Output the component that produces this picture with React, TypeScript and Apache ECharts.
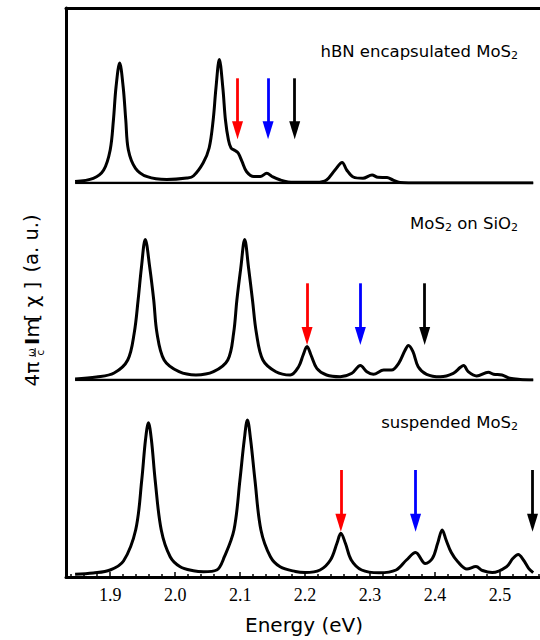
import React, { useEffect, useRef } from 'react';
import * as echarts from 'echarts';

// ---------- axis ----------
const X_MIN = 1.832;
const X_MAX = 2.5615;
const majorTicks = [1.9, 2.0, 2.1, 2.2, 2.3, 2.4, 2.5];
const minorTicks = [1.84, 1.86, 1.88, 1.92, 1.94, 1.96, 1.98, 2.02, 2.04, 2.06, 2.08, 2.12, 2.14, 2.16, 2.18,
  2.22, 2.24, 2.26, 2.28, 2.32, 2.34, 2.36, 2.38, 2.42, 2.44, 2.46, 2.48, 2.52, 2.54, 2.56];

// ---------- panel 1: hBN encapsulated MoS2 ----------
const hbnEnergy = [1.846, 1.874, 1.890, 1.900, 1.905, 1.909, 1.9146, 1.920, 1.924, 1.928, 1.939, 1.957, 1.987, 2.018,
  2.028, 2.043, 2.0523, 2.0585, 2.0628, 2.068, 2.0734, 2.0774, 2.082, 2.086, 2.092, 2.097, 2.103, 2.110, 2.121, 2.131,
  2.141, 2.149, 2.162, 2.182, 2.218, 2.233, 2.246, 2.257, 2.264, 2.274, 2.289, 2.303, 2.312, 2.326, 2.335, 2.346, 2.377, 2.551];
const hbnValue = [0.015, 0.047, 0.13, 0.33, 0.63, 0.96, 1.20, 0.96, 0.63, 0.33, 0.147, 0.063, 0.035, 0.05,
  0.07, 0.20, 0.35, 0.63, 0.95, 1.235, 0.95, 0.63, 0.43, 0.35, 0.325, 0.30, 0.213, 0.113, 0.065, 0.065,
  0.097, 0.065, 0.03, 0.007, 0.007, 0.03, 0.13, 0.205, 0.13, 0.06, 0.047, 0.08, 0.057, 0.055, 0.03, 0.005, 0, 0];

// ---------- panel 2: MoS2 on SiO2 ----------
const sio2Energy = [1.846, 1.879, 1.906, 1.927, 1.937, 1.943, 1.948, 1.954, 1.961, 1.967, 1.972, 1.983, 2.006, 2.032,
  2.059, 2.081, 2.090, 2.095, 2.101, 2.107, 2.113, 2.119, 2.125, 2.135, 2.155, 2.177, 2.190, 2.197, 2.203, 2.209,
  2.218, 2.233, 2.254, 2.272, 2.285, 2.295, 2.305, 2.321, 2.333, 2.344, 2.354, 2.359, 2.366, 2.374, 2.387, 2.408,
  2.428, 2.439, 2.444, 2.451, 2.464, 2.482, 2.490, 2.503, 2.515, 2.531, 2.551];
const sio2Value = [0.01, 0.03, 0.07, 0.20, 0.47, 0.80, 1.12, 1.405, 1.12, 0.80, 0.47, 0.20, 0.083, 0.05,
  0.083, 0.20, 0.47, 0.80, 1.12, 1.405, 1.12, 0.80, 0.47, 0.20, 0.083, 0.05, 0.133, 0.25, 0.335, 0.25,
  0.117, 0.05, 0.033, 0.067, 0.145, 0.083, 0.057, 0.10, 0.10, 0.167, 0.30, 0.345, 0.283, 0.133, 0.057, 0.033,
  0.067, 0.127, 0.145, 0.083, 0.04, 0.077, 0.057, 0.05, 0.017, 0.005, 0];

// ---------- panel 3: suspended MoS2 ----------
const suspEnergy = [1.846, 1.874, 1.900, 1.9205, 1.9392, 1.9486, 1.9543, 1.9589, 1.9635, 1.9692, 1.9786,
  1.9923, 2.0077, 2.028, 2.0436, 2.064, 2.0758, 2.0905, 2.0997, 2.1063, 2.1112, 2.1162, 2.1228, 2.1320, 2.1466,
  2.1615, 2.185, 2.200, 2.223, 2.239, 2.249, 2.255, 2.262, 2.271, 2.287, 2.314, 2.340, 2.356, 2.370, 2.385, 2.396,
  2.404, 2.411, 2.417, 2.425, 2.435, 2.449, 2.463, 2.473, 2.488, 2.510, 2.520, 2.528, 2.536, 2.544, 2.551];
const suspValue = [0.007, 0.02, 0.05, 0.14, 0.45, 0.95, 1.35, 1.523, 1.35, 0.95, 0.45,
  0.183, 0.083, 0.043, 0.033, 0.05, 0.183, 0.45, 0.95, 1.35, 1.55, 1.35, 0.95, 0.45, 0.183,
  0.083, 0.035, 0.025, 0.05, 0.15, 0.317, 0.417, 0.317, 0.15, 0.05, 0.023, 0.05, 0.15, 0.225, 0.115, 0.167,
  0.317, 0.45, 0.35, 0.225, 0.133, 0.06, 0.085, 0.045, 0.025, 0.083, 0.167, 0.205, 0.15, 0.067, 0.023];

// baseline span (energy)
const baselineSpan = [1.846, 2.551];

// ---------- arrows (energy, top, tip) ----------
const arrowColors = ['#ff0000', '#0000ff', '#000000'];
const hbnArrowE = [2.096, 2.143, 2.184];
const sio2ArrowE = [2.203, 2.285, 2.384];
const suspArrowE = [2.255, 2.370, 2.550];
const arrowTop = [1.047, 0.967, 1.05];
const arrowTip = [0.437, 0.35, 0.433];

const panelLabels = ['hBN encapsulated MoS{s|2}', 'MoS{s|2} on SiO{s|2}', 'suspended MoS{s|2}'];

const zip = (xs: number[], ys: number[]) => xs.map((x, i) => [x, ys[i]]);

function buildOption() {
  const panelTops = [23, 220, 415];
  const panelH = 160;
  const labelY = [51, 223, 422];
  const HEAD = 0.09;

  const grids: any[] = [
    { left: 66, right: 0, top: 8, height: 569, outerBoundsMode: 'none' },
    ...panelTops.map((t) => ({ left: 66, right: 0, top: t, height: panelH, outerBoundsMode: 'none' })),
  ];

  const xAxes: any[] = [
    {
      type: 'value', gridIndex: 0, position: 'bottom', min: X_MIN, max: X_MAX,
      axisLine: { show: true, onZero: false, lineStyle: { color: '#000', width: 3 } },
      axisTick: { show: true, inside: true, length: 5, customValues: majorTicks, lineStyle: { color: '#000', width: 1.5 } },
      axisLabel: {
        show: true, customValues: majorTicks, margin: 9, color: '#000', fontFamily: 'Liberation Serif', fontSize: 18,
        formatter: (v: number) => v.toFixed(1),
      },
      splitLine: { show: false },
    },
    {
      type: 'value', gridIndex: 0, position: 'bottom', min: X_MIN, max: X_MAX,
      axisLine: { show: false, onZero: false },
      axisTick: { show: true, inside: true, length: 3, customValues: minorTicks, lineStyle: { color: '#000', width: 1.5 } },
      axisLabel: { show: false },
      splitLine: { show: false },
    },
    {
      type: 'value', gridIndex: 0, position: 'top', min: X_MIN, max: X_MAX,
      axisLine: { show: true, onZero: false, lineStyle: { color: '#000', width: 3 } },
      axisTick: { show: false }, axisLabel: { show: false }, splitLine: { show: false },
    },
    ...[1, 2, 3].map((g) => ({ type: 'value', gridIndex: g, min: X_MIN, max: X_MAX, show: false })),
  ];

  const yAxes: any[] = [
    {
      type: 'value', gridIndex: 0, min: 0, max: 1, position: 'left',
      axisLine: { show: true, onZero: false, lineStyle: { color: '#000', width: 3 } },
      axisTick: { show: false }, axisLabel: { show: false }, splitLine: { show: false },
    },
    ...[1, 2, 3].map((g) => ({ type: 'value', gridIndex: g, min: 0, max: 1.6, show: false })),
  ];

  const curves = [zip(hbnEnergy, hbnValue), zip(sio2Energy, sio2Value), zip(suspEnergy, suspValue)];
  const arrowsE = [hbnArrowE, sio2ArrowE, suspArrowE];

  const series: any[] = [];
  curves.forEach((data, i) => {
    series.push({
      type: 'line', xAxisIndex: 3 + i, yAxisIndex: 1 + i, data, showSymbol: false, smooth: 0.35,
      lineStyle: { color: '#000', width: 3 }, z: 3, silent: true,
      markLine: {
        silent: true, animation: false, symbol: ['none', 'triangle'], symbolSize: [11, 18],
        label: { show: false },
        data: arrowsE[i].map((e, k) => [
          { coord: [e, arrowTop[i]], lineStyle: { color: arrowColors[k], width: 2.8, type: 'solid' } },
          { coord: [e, arrowTip[i] + HEAD] },
        ]),
      },
    });
    if (i < 2) {
      series.push({
        type: 'line', xAxisIndex: 3 + i, yAxisIndex: 1 + i,
        data: [[baselineSpan[0], 0], [baselineSpan[1], 0]], showSymbol: false,
        lineStyle: { color: '#000', width: 2.5 }, z: 2, silent: true,
      });
    }
  });

  const sansFont = 'DejaVu Sans';
  const t = (x: number, y: number, text: string, fontSize: number, extra: any = {}) => ({
    type: 'text', x, y,
    style: { text, align: 'left', verticalAlign: 'middle', fill: '#000', fontFamily: sansFont, fontSize, ...extra },
  });
  const graphic: any[] = [
    ...panelLabels.map((txt, i) => ({
      type: 'text', x: 518, y: labelY[i],
      style: {
        text: txt, align: 'right', verticalAlign: 'middle', fill: '#000', fontFamily: sansFont, fontSize: 16.5,
        lineHeight: 20,
        rich: { s: { fontSize: 11, fontFamily: sansFont, verticalAlign: 'bottom', fill: '#000' } },
      },
    })),
    {
      type: 'text', x: 304, y: 625,
      style: { text: 'Energy (eV)', align: 'center', verticalAlign: 'middle', fill: '#000', fontFamily: sansFont, fontSize: 20 },
    },
    {
      type: 'group', x: 31.5, y: 386.5, rotation: Math.PI / 2,
      children: [
        t(0, 0, '4π', 20),
        t(34, -1, 'ω', 10.5, { align: 'center' }),
        { type: 'line', shape: { x1: 29.5, y1: 3.7, x2: 38.5, y2: 3.7 }, style: { stroke: '#000', lineWidth: 0.9 } },
        t(34, 8.5, 'c', 10.5, { align: 'center' }),
        t(41.5, 0, '{b|I}m', 20, { rich: { b: { fontSize: 20, fontWeight: 'bold', fontFamily: sansFont, fill: '#000' } } }),
        t(65, 0, '[ χ ]', 20),
        t(114, 0, '(a. u.)', 19.5),
      ],
    },
  ];

  return {
    animation: false,
    backgroundColor: '#fff',
    grid: grids,
    xAxis: xAxes,
    yAxis: yAxes,
    series,
    graphic,
  };
}

export default function App() {
  const ref = useRef<HTMLDivElement>(null);
  useEffect(() => {
    if (!ref.current) return;
    const chart = echarts.init(ref.current, null, { renderer: 'svg' });
    chart.setOption(buildOption() as any);
    return () => chart.dispose();
  }, []);
  return (
    <div
      ref={ref}
      style={{ position: 'fixed', left: 0, top: 0, width: 540, height: 640, background: '#fff' }}
    />
  );
}
